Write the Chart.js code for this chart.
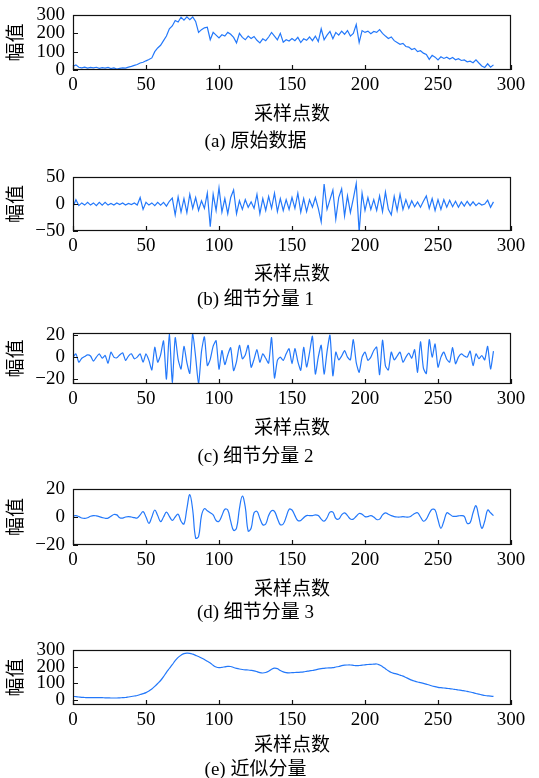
<!DOCTYPE html>
<html>
<head>
<meta charset="utf-8">
<script src="https://cdn.jsdelivr.net/npm/chart.js@4.4.1/dist/chart.umd.min.js"></script>
<style>
html, body { margin: 0; padding: 0; background: #fff; overflow: hidden; width: 539px; height: 778px; }
canvas { position: absolute; left: 0; }
</style>
</head>
<body>
<canvas id="pa"></canvas>
<canvas id="pb"></canvas>
<canvas id="pc"></canvas>
<canvas id="pd"></canvas>
<canvas id="pe"></canvas>
<script>
// sample spacing of the arrays below (every 2nd sample point)
const STEP = 2;

const rawSignal = [
  20,28,15,12,16,10,14,12,15,9,
  13,10,14,8,11,5,9,12,10,16,
  20,25,30,38,42,50,57,66,100,120,
  135,160,185,225,240,270,262,288,272,290,
  275,289,265,205,220,230,233,165,205,190,
  175,192,185,205,195,178,148,200,178,165,
  185,172,183,162,148,170,160,180,205,185,
  165,200,152,165,158,172,160,178,150,170,
  162,180,160,185,155,225,165,190,210,170,
  205,190,212,195,215,185,200,248,150,215,
  205,212,198,210,205,220,200,185,172,180,
  160,150,140,145,128,125,112,118,100,105,
  92,85,58,80,70,55,72,63,70,60,
  68,56,62,52,55,45,48,40,55,38,
  22,14,34,15,28
];

const detail1 = [
  -5,8,-3,2,-2,3,-2,2,-3,3,
  -2,3,-2,1,-2,2,-1,2,-2,1,
  -1,2,-2,12,-10,3,-2,2,-3,3,
  -2,3,-4,5,11,-20,13,-15,10,-16,
  18,-8,12,-12,6,-8,20,-42,18,-12,
  30,-15,10,-18,12,26,-18,6,-10,8,
  -6,4,-8,18,-18,10,-12,14,-8,20,
  -14,10,-12,8,-10,12,-8,20,-15,10,
  -14,8,-6,12,-8,-33,37,-10,8,26,
  -28,12,28,-22,15,-16,10,38,-52,20,
  -12,12,-10,8,-12,15,-14,22,-10,-20,
  14,-12,18,-10,8,-8,6,-5,4,-6,
  5,15,-8,10,-12,8,-10,8,-6,7,
  -5,5,-6,4,-4,5,-3,4,-3,2,
  -2,0,7,-6,4
];

const detail2 = [
  0,3,-4.6,-1,0.6,2,1,-3.7,0,3,
  -1,1.5,-5.5,4.5,0,-0.6,2,4,-3,1,
  3,-1.5,0,3,-4.6,3,-3,-11.7,9,-4.6,
  2,14.8,-20,22,-23,17.8,-2,-10.8,9.8,-5,
  -14.8,22,0,-24.6,5,18.5,-7.7,-2,10,15,
  -11,6,-6.8,2,8.6,-12.3,-4,10.8,-1.5,2,
  10.8,-9.2,-2,6.8,-4.6,3,-1,-5.5,17.8,-19,
  -3,0,-3,3,7.7,-6,7.7,-4,-12,9,
  -9,4,19,-15.4,0,10.8,-15.4,5,20,-17,
  4.6,-2.5,1,6,0,-2.5,16,-5,-13.8,0,
  4.6,-3,0,6,9.2,-16,15.4,-8,-11.7,4.6,
  -2.5,1,4.6,-4.6,0,3.7,-1,6.8,-13.8,14,
  -10,-15,16,0,12,-9.2,0,4.6,-2,-4.6,
  8.6,-6,0,3,1,0,5.5,-7.7,3,-1.5,
  1.5,-2.5,9.8,-10.8,5.5
];

const detail3 = [
  0.7,1,0.3,-0.7,-1,-0.5,0.5,1,0.8,0.3,
  -0.4,-0.9,-0.8,0.5,1.8,1.5,-0.5,-0.8,0,0.3,
  0,-0.5,-0.7,1.5,3.8,0,-4.5,0,5,1,
  -3.3,0,3.5,0.5,-2.4,0,2,-3,-5,6,
  16,5,-15,-14,1,6,4.5,3,1.5,-2.5,
  -3,1,5.5,5,-3,-9.5,-8,6,15,7,
  -10,-8,3,4,-1,-5.5,-5,1,4.5,4,
  -1,-5.5,-5,0,5.5,5,1,-2.5,-2.5,-0.5,
  1,1,1,1.5,1,-1.5,-3,-0.5,3.5,3.5,
  -1,-1.5,1.5,3,1,-1.5,-1.5,0.5,2.5,2,
  0.3,0.3,1,0,-1.8,-1.5,1.5,3,2,1,
  0.3,0,0,0.2,0,0,1,2.5,3,0,
  -3,-1.5,2.5,5.5,5,-2,-8,-3,3,2,
  0.5,0.5,0.8,1,0.5,-4.5,-4,3,8,0,
  -8,-3,5,3,1
];

const approx = [
  22,20,18,16,15,14,14,14,14,14,
  14,13,13,12,12,12,13,14,15,18,
  21,24,27,33,38,44,54,66,82,99,
  117,140,166,189,212,236,256,269,278,281,
  280,275,268,261,252,243,232,222,208,198,
  194,196,199,202,201,195,190,186,183,181,
  180,178,175,170,164,162,165,172,184,191,
  188,177,169,164,163,164,165,166,167,169,
  172,175,177,181,185,188,190,192,193,194,
  198,201,206,209,210,210,208,206,207,209,
  211,213,214,215,216,210,200,188,175,165,
  160,155,149,143,135,127,119,113,108,104,
  100,95,90,84,80,76,74,72,70,68,
  66,63,60,58,55,52,48,44,39,35,
  31,27,25,23,22
];

const xTicks = [0, 50, 100, 150, 200, 250, 300];
const ticksA = [0, 100, 200, 300];
const ticksB = [-50, 0, 50];
const ticksC = [-20, 0, 20];
const ticksD = [-20, 0, 20];
const ticksE = [0, 100, 200, 300];
const captions = ['(a) 原始数据', '(b) 细节分量 1', '(c) 细节分量 2', '(d) 细节分量 3', '(e) 近似分量'];
const xLabel = '采样点数';
const yLabel = '幅值';

const FONT = '"Liberation Serif", "Times New Roman", "Noto Sans CJK SC", serif';
const LINE = 'rgb(35,120,250)';

Chart.defaults.font.family = FONT;
Chart.defaults.color = '#000';

// box around the plot + inward tick marks
const frame = {
  id: 'frame',
  afterDatasetsDraw(chart) {
    const { ctx, chartArea: a, scales: { x, y } } = chart;
    ctx.save();
    ctx.strokeStyle = '#111';
    ctx.lineWidth = 1.2;
    ctx.strokeRect(a.left + 0.5, a.top + 0.5, a.right - a.left - 1, a.bottom - a.top - 1);
    ctx.beginPath();
    x.ticks.forEach(t => {
      const px = Math.round(x.getPixelForValue(t.value)) + 0.5;
      ctx.moveTo(px, a.bottom);
      ctx.lineTo(px, a.bottom - 5);
    });
    y.ticks.forEach(t => {
      const py = Math.round(y.getPixelForValue(t.value)) + 0.5;
      ctx.moveTo(a.left, py);
      ctx.lineTo(a.left + 5, py);
    });
    ctx.stroke();
    ctx.restore();
  }
};

// top/bottom = plot box edges on the page, xh = x-axis block height, cap = caption gap
const panels = [
  { id: 'pa', values: rawSignal, yMin: 0, yMax: 300, yTicks: ticksA, caption: captions[0], top: 15, bottom: 70, xh: 56, cap: 5, tension: 0 },
  { id: 'pb', values: detail1, yMin: -50, yMax: 50, yTicks: ticksB, caption: captions[1], top: 177, bottom: 231, xh: 55, cap: 3, tension: 0 },
  { id: 'pc', values: detail2, yMin: -24.5, yMax: 22, yTicks: ticksC, caption: captions[2], top: 333, bottom: 384, xh: 56, cap: 6, tension: 0.2 },
  { id: 'pd', values: detail3, yMin: -20, yMax: 20, yTicks: ticksD, caption: captions[3], top: 489, bottom: 545, xh: 56, cap: 1, tension: 0.4 },
  { id: 'pe', values: approx, yMin: -30, yMax: 300, yTicks: ticksE, caption: captions[4], top: 650, bottom: 705, xh: 52, cap: 2, tension: 0.4 }
];

const minus = v => String(v).replace('-', '\u2212');

panels.forEach(p => {
  const cv = document.getElementById(p.id);
  const padTop = 20;
  cv.width = 539;
  cv.height = Math.ceil(padTop + (p.bottom - p.top) + p.xh + 22.8 + p.cap + 5.2);
  cv.style.top = (p.top - padTop) + 'px';

  new Chart(cv, {
    type: 'line',
    data: {
      datasets: [{
        data: p.values.map((v, i) => ({ x: i * STEP, y: v })),
        borderColor: LINE,
        borderWidth: 1.2,
        pointRadius: 0,
        tension: p.tension,
        fill: false
      }]
    },
    options: {
      responsive: false,
      animation: false,
      events: [],
      layout: { padding: { top: padTop, left: 0, right: 28, bottom: 0 } },
      plugins: {
        legend: { display: false },
        tooltip: { enabled: false },
        title: {
          display: true,
          position: 'bottom',
          text: p.caption,
          color: '#000',
          font: { size: 19, weight: 'normal', family: FONT },
          padding: { top: p.cap, bottom: 5.2 }
        }
      },
      scales: {
        x: {
          type: 'linear',
          min: 0,
          max: 300,
          afterBuildTicks: s => { s.ticks = xTicks.map(v => ({ value: v })); },
          afterFit: s => { s.height = p.xh; },
          grid: { display: false, drawTicks: false },
          border: { display: false },
          ticks: { font: { size: 19 }, padding: 4, maxRotation: 0, autoSkip: false, color: '#000' },
          title: { display: true, text: xLabel, font: { size: 19 }, padding: { top: 0, bottom: 0 }, color: '#000' }
        },
        y: {
          min: p.yMin,
          max: p.yMax,
          afterBuildTicks: s => { s.ticks = p.yTicks.map(v => ({ value: v })); },
          afterFit: s => { s.width = 73; },
          grid: { display: false, drawTicks: false },
          border: { display: false },
          ticks: { font: { size: 19 }, padding: 8, autoSkip: false, callback: v => minus(v), color: '#000' },
          title: { display: true, text: yLabel, font: { size: 19 }, padding: { top: 6, bottom: 0 }, color: '#000' }
        }
      }
    },
    plugins: [frame]
  });
});
</script>
</body>
</html>
